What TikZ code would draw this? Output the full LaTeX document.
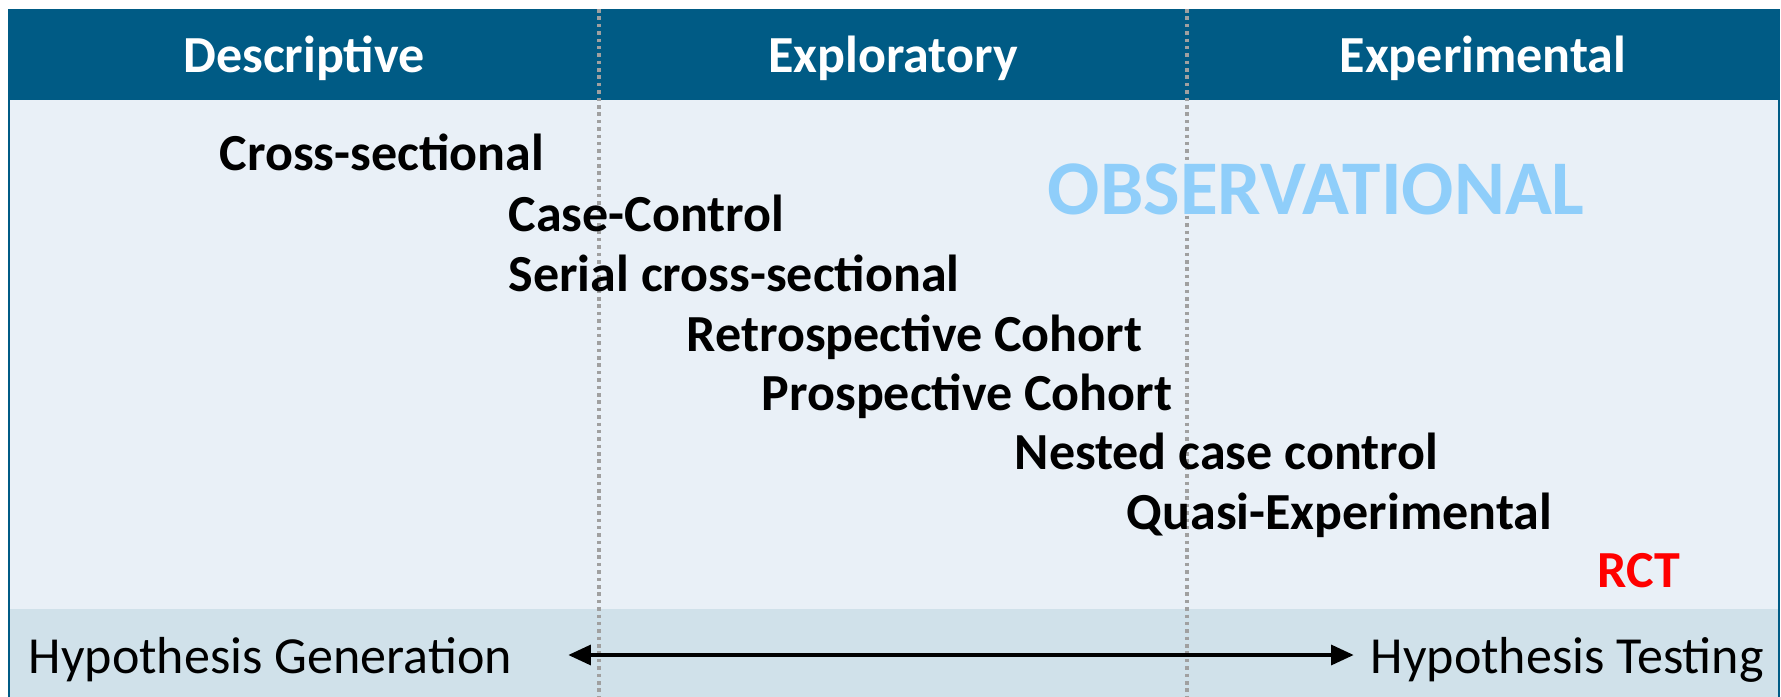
\documentclass[tikz,border=0pt]{standalone}
\usepackage{fontspec}
\setmainfont{Carlito}
\usetikzlibrary{arrows.meta}

\definecolor{headblue}{RGB}{0,91,133}
\definecolor{paneblue}{RGB}{233,240,247}
\definecolor{bandblue}{RGB}{208,225,234}
\definecolor{obsblue}{RGB}{143,206,250}
\definecolor{sepgray}{RGB}{160,160,160}

\tikzset{
  colhead/.style={anchor=base, inner sep=0pt, text=white,
    font=\bfseries\fontsize{14.8}{17}\selectfont},
  study/.style={anchor=base west, inner sep=0pt,
    font=\bfseries\fontsize{14.8}{17}\selectfont},
  goal/.style={anchor=base west, inner sep=0pt,
    font=\fontsize{14.8}{17}\selectfont},
  colsep/.style={sepgray, line width=1.1pt, dash pattern=on 1pt off 1.1pt}
}

\begin{document}
\begin{tikzpicture}[x=0.01cm, y=-0.01cm]
\useasboundingbox (0,0) rectangle (1781,697);
\fill[white] (0,0) rectangle (1781,697);

% panel, header and bottom band
\fill[paneblue] (9,100) rectangle (1779,609);
\fill[bandblue] (9,609) rectangle (1779,697);
\fill[headblue] (9,9) rectangle (1779,100);
\draw[headblue, line width=0.6pt] (9,9) -- (9,697) (1779,9) -- (1779,697);

\draw[colsep] (599,9) -- (599,697);
\draw[colsep] (1187,9) -- (1187,697);

\node[colhead] (desc) at (304,73) {Descriptive};
\node[colhead] (expl) at (893,73) {Exploratory};
\node[colhead] (expe) at (1483,73) {Experimental};

\node[anchor=base west, inner sep=0pt, text=obsblue,
  font=\bfseries\fontsize{22}{26}\selectfont] (obs) at (1047,214) {OBSERVATIONAL};

\node[study] (cross)  at (219,170)  {Cross-sectional};
\node[study] (cc)     at (508,231)  {Case-Control};
\node[study] (serial) at (508,291)  {Serial cross-sectional};
\node[study] (retro)  at (686,351)  {Retrospective Cohort};
\node[study] (prosp)  at (761,410)  {Prospective Cohort};
\node[study] (nested) at (1014,469) {Nested case control};
\node[study] (quasi)  at (1126,529) {Quasi-Experimental};
\node[study, text=red] (rct) at (1597,587) {RCT};

\node[goal] (hgen)  at (28,673)   {Hypothesis Generation};
\node[goal] (htest) at (1370,673) {Hypothesis Testing};

\coordinate (genend)  at (568,655);
\coordinate (testend) at (1354,655);
\draw[line width=1.4pt, {Triangle[length=6.5pt,width=5.5pt]}-{Triangle[length=6.5pt,width=5.5pt]}]
  (genend) -- (testend);

\end{tikzpicture}
\end{document}
